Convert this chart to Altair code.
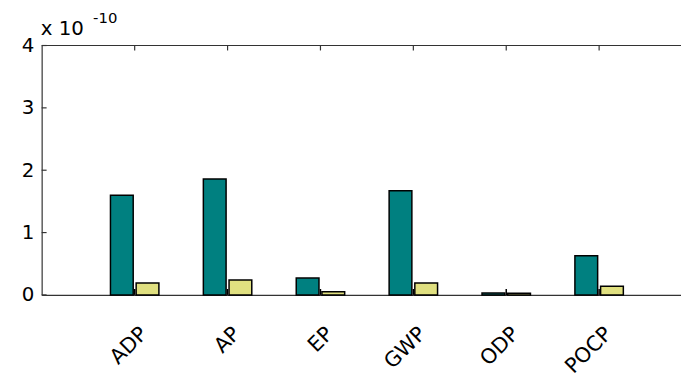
import altair as alt
import pandas as pd

categories = ["ADP", "AP", "EP", "GWP", "ODP", "POCP"]
series_names = ["A", "B"]
series_a = [1.60, 1.86, 0.27, 1.67, 0.03, 0.63]
series_b = [0.19, 0.24, 0.05, 0.19, 0.025, 0.14]
y_ticks = [0, 1, 2, 3, 4]
exp_base = ["x 10"]
exp_power = ["-10"]

rows = []
for c, a, b in zip(categories, series_a, series_b):
    rows.append({"cat": c, "series": "A", "value": a})
    rows.append({"cat": c, "series": "B", "value": b})
df = pd.DataFrame(rows)

W = 646
H = 252
FONT = "DejaVu Sans"

xscale = alt.Scale(domain=categories, paddingInner=0, paddingOuter=0.4415, align=0.568)
yscale = alt.Scale(domain=[0, 4], nice=False)
offscale = alt.Scale(domain=series_names, paddingInner=0.115, paddingOuter=0.865)

xaxis = alt.Axis(title=None, ticks=False, labelAngle=315, labelAlign="right",
                 labelBaseline="top", labelPadding=28, labelFontSize=21,
                 labelFont=FONT, labelColor="black", domainColor="#333",
                 domainWidth=1.2, labelOffset=2)
yaxis = alt.Axis(title=None, values=y_ticks, ticks=False, grid=False,
                 labelFontSize=20, labelFont=FONT, labelColor="black",
                 labelPadding=8, domainColor="#333", domainWidth=1.2)

bars = alt.Chart(df).mark_bar(stroke="black", strokeWidth=1.5).encode(
    x=alt.X("cat:N", scale=xscale, sort=categories, axis=xaxis),
    xOffset=alt.XOffset("series:N", scale=offscale),
    y=alt.Y("value:Q", scale=yscale, axis=yaxis),
    color=alt.Color("series:N", scale=alt.Scale(domain=series_names, range=["#008080", "#E0E080"]),
                    legend=None),
)

ydf = pd.DataFrame({"value": y_ticks})
ytick_rules = alt.Chart(ydf).mark_rule(color="#333", strokeWidth=1.2).encode(
    y=alt.Y("value:Q", scale=yscale, axis=yaxis), x=alt.value(0), x2=alt.value(5))

cdf = pd.DataFrame({"cat": categories})
xtick_bottom = alt.Chart(cdf).mark_rule(color="black", strokeWidth=1.5).encode(
    x=alt.X("cat:N", scale=xscale, sort=categories, axis=xaxis),
    y=alt.value(H - 6), y2=alt.value(H))
xtick_top = alt.Chart(cdf).mark_rule(color="#333", strokeWidth=1.2).encode(
    x=alt.X("cat:N", scale=xscale, sort=categories, axis=xaxis),
    y=alt.value(0), y2=alt.value(5))

top_spine = alt.Chart(pd.DataFrame({"k": [0]})).mark_rule(color="#333", strokeWidth=1.2).encode(
    x=alt.value(0), x2=alt.value(W), y=alt.value(0))

base_txt = alt.Chart(pd.DataFrame({"t": exp_base})).mark_text(
    align="left", baseline="alphabetic", fontSize=20, font=FONT, color="black").encode(
    text="t:N", x=alt.value(-1), y=alt.value(-11))
pow_txt = alt.Chart(pd.DataFrame({"t": exp_power})).mark_text(
    align="left", baseline="alphabetic", fontSize=15, font=FONT, color="black").encode(
    text="t:N", x=alt.value(52), y=alt.value(-23))

chart = alt.layer(bars, xtick_bottom, xtick_top, ytick_rules, top_spine, base_txt, pow_txt).properties(
    width=W, height=H,
    autosize=alt.AutoSizeParams(type="none"),
    padding={"left": 34, "top": 36, "right": 0, "bottom": 78},
).configure_view(strokeWidth=0)

chart.save("out.html", embed_options={"renderer": "svg", "actions": False})
